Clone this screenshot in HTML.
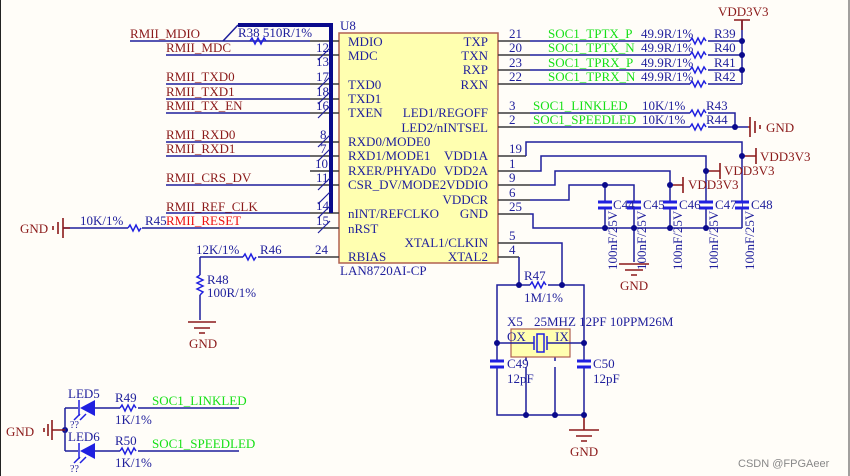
<!DOCTYPE html>
<html><head><meta charset="utf-8"><style>
html,body{margin:0;padding:0;background:#fffdf8;}
svg{display:block;}
text{font-family:"Liberation Serif",serif;font-size:13px;}
.b{fill:#1f1f9c}.r{fill:#8b1a1a}.g{fill:#16e016}.rr{fill:#ee1111}
.w{stroke:#1f1f9c;stroke-width:1.5;fill:none}
.k{stroke:#3a3a3a;stroke-width:1.5;fill:none}
.pr{stroke:#8b1a1a;stroke-width:1.6;fill:none}
.z{stroke:#2020e0;stroke-width:1.5;fill:none}
.c{stroke:#2020e0;stroke-width:3;fill:none}
</style></head><body>
<svg width="850" height="476" viewBox="0 0 850 476" xmlns="http://www.w3.org/2000/svg">
<rect x="0" y="0" width="850" height="476" fill="#fffdf8"/>
<line x1="0.5" y1="0" x2="0.5" y2="476" stroke="#222" stroke-width="1"/>
<line x1="849" y1="0" x2="849" y2="476" stroke="#444" stroke-width="1"/>

<!-- U8 box -->
<rect x="339" y="33" width="159" height="230" fill="#ffffb0" stroke="#b06050" stroke-width="1.5"/>
<text x="340" y="30" class="b">U8</text>
<text x="340" y="275" class="b">LAN8720AI-CP</text>
<g class="b" style="font-size:12.5px">
<text x="348" y="46">MDIO</text><text x="348" y="60">MDC</text>
<text x="348" y="89">TXD0</text><text x="348" y="103">TXD1</text><text x="348" y="117">TXEN</text>
<text x="348" y="146">RXD0/MODE0</text><text x="348" y="160">RXD1/MODE1</text>
<text x="348" y="175">RXER/PHYAD0</text><text x="348" y="189">CSR_DV/MODE2</text>
<text x="348" y="218">nINT/REFCLKO</text><text x="348" y="233">nRST</text><text x="348" y="261">RBIAS</text>
<g text-anchor="end">
<text x="488" y="46">TXP</text><text x="488" y="60">TXN</text><text x="488" y="74">RXP</text><text x="488" y="89">RXN</text>
<text x="488" y="117">LED1/REGOFF</text><text x="488" y="132">LED2/nINTSEL</text>
<text x="488" y="160">VDD1A</text><text x="488" y="175">VDD2A</text><text x="488" y="189">VDDIO</text>
<text x="488" y="204">VDDCR</text><text x="488" y="218">GND</text><text x="488" y="247">XTAL1/CLKIN</text><text x="488" y="261">XTAL2</text>
</g></g>

<!-- left pins -->
<g class="k">
<path d="M310 41H339M310 55H339M310 84H339M310 99H339M310 113H339M310 142H339M310 156H339M310 171H339M310 185H339M310 213H339M310 228H339M310 257H339"/>
</g>
<g class="w">
<path d="M130 41H310M166 55H310M166 84H310M166 99H310M166 113H310M166 142H310M166 156H310M166 185H310M166 213H310"/>
<path d="M223 41L238 25"/>
<path d="M63 228H128M142 228H310"/>
<path d="M200 257H243M258 257H310M200 257V275M200 295V320"/>
</g>
<path d="M238 25H331V213" stroke="#0a0a8c" stroke-width="4" fill="none"/>
<g stroke="#1f1f9c" stroke-width="1.2">
<path d="M318 60L330 48M318 89L330 77M318 104L330 92M318 118L330 106M318 147L330 135M318 161L330 149M318 190L330 178M318 204L330 192M318 218L330 206M318 233L330 221"/>
</g>
<path class="z" d="M250 41l2-3l3 6l3-6l3 6l3-6l2 3" />
<text x="238" y="37" class="b">R38  510R/1%</text>
<g class="b" style="font-size:12px">
<text x="316" y="52">12</text><text x="316" y="66">13</text><text x="316" y="81">17</text><text x="316" y="96">18</text><text x="316" y="110">16</text>
<text x="320" y="139">8</text><text x="320" y="153">7</text><text x="315" y="168">10</text><text x="316" y="182">11</text><text x="316" y="210">14</text><text x="316" y="225">15</text><text x="315" y="254">24</text>
</g>
<g class="r">
<text x="130" y="38">RMII_MDIO</text><text x="166" y="52">RMII_MDC</text>
<text x="166" y="81">RMII_TXD0</text><text x="166" y="96">RMII_TXD1</text><text x="166" y="110">RMII_TX_EN</text>
<text x="166" y="139">RMII_RXD0</text><text x="166" y="153">RMII_RXD1</text><text x="166" y="182">RMII_CRS_DV</text>
<text x="166" y="211">RMII_REF_CLK</text>
</g>
<text x="166" y="225" class="rr">RMII_RESET</text>
<!-- R45 GND -->
<path class="z" d="M128 228l2-3l3 6l3-6l3 6l2-3"/>
<text x="80" y="225" class="b">10K/1%</text><text x="145" y="225" class="b">R45</text>
<g class="pr"><path d="M63 218V238M58 222V234M53 226V230M63 228H70"/></g>
<text x="20" y="233" class="r">GND</text>
<!-- R46 R48 -->
<path class="z" d="M243 257l2-3l3 6l3-6l3 6l2-3"/>
<text x="196" y="254" class="b">12K/1%</text><text x="260" y="254" class="b">R46</text>
<path class="z" d="M200 275l-3 2l6 3l-6 3l6 3l-6 3l6 3l-3 3"/>
<text x="207" y="284" class="b">R48</text><text x="207" y="297" class="b">100R/1%</text>
<g class="pr"><path d="M188 322H216M194 328H210M199 333H205"/></g>
<text x="189" y="348" class="r">GND</text>

<!-- right pins -->
<g class="k"><path d="M498 41H530M498 55H530M498 70H530M498 84H530M498 113H530M498 127H530M498 156H526M498 171H530M498 185H530M498 200H530M498 214H530M498 243H530M498 257H519"/></g>
<g class="b" style="font-size:12px">
<text x="509" y="38">21</text><text x="509" y="52">20</text><text x="509" y="67">23</text><text x="509" y="81">22</text>
<text x="509" y="110">3</text><text x="509" y="124">2</text><text x="509" y="153">19</text><text x="509" y="168">1</text>
<text x="509" y="182">9</text><text x="509" y="197">6</text><text x="509" y="211">25</text><text x="509" y="240">5</text><text x="509" y="254">4</text>
</g>
<g class="w">
<path d="M530 41H690M708 41H742M530 55H690M708 55H742M530 70H690M708 70H742M530 84H690M708 84H742M742 20V84"/>
<path d="M530 113H690M708 113H735V127M530 127H690M708 127H748"/>
<path d="M526 156V142H742V228M530 171H541V156H706V228M530 185H555V171H670V228M530 200H569V185H634V228M605 185V228M530 214V214H533V228H742"/>
<path d="M634 228V262"/>
<path d="M530 243H562V285M519 257V285H530M548 285H584V343M519 285H497V415H584V415M584 343V415M526 357V415M555 357V415"/>
</g>
<g class="z">
<path d="M690 41l2-3l3 6l3-6l3 6l3-6l2 3M690 55l2-3l3 6l3-6l3 6l3-6l2 3M690 70l2-3l3 6l3-6l3 6l3-6l2 3M690 84l2-3l3 6l3-6l3 6l3-6l2 3M690 113l2-3l3 6l3-6l3 6l3-6l2 3M690 127l2-3l3 6l3-6l3 6l3-6l2 3M530 285l2-3l3 6l3-6l3 6l3-6l2 3"/>
</g>
<g class="g">
<text x="548" y="38">SOC1_TPTX_P</text><text x="548" y="52">SOC1_TPTX_N</text><text x="548" y="67">SOC1_TPRX_P</text><text x="548" y="81">SOC1_TPRX_N</text>
<text x="533" y="110">SOC1_LINKLED</text><text x="533" y="124">SOC1_SPEEDLED</text>
</g>
<g class="b">
<text x="641" y="38">49.9R/1%</text><text x="641" y="52">49.9R/1%</text><text x="641" y="67">49.9R/1%</text><text x="641" y="81">49.9R/1%</text>
<text x="714" y="38">R39</text><text x="714" y="52">R40</text><text x="714" y="67">R41</text><text x="714" y="81">R42</text>
<text x="642" y="110">10K/1%</text><text x="642" y="124">10K/1%</text><text x="706" y="110">R43</text><text x="706" y="124">R44</text>
</g>
<!-- power flags -->
<g class="pr">
<path d="M742 20H742M734 20H750M742 20V30"/>
<path d="M748 127H750M750 117V137M755 121V133M760 125V129"/>
<path d="M742 156H756M756 148V164M706 171H720M720 163V179M670 185H683M683 177V193"/>
<path d="M619 264H649M625 270H643M631 275H637"/>
<path d="M584 415V430M569 430H599M576 436H592M581 441H587"/>
</g>
<g class="r">
<text x="718" y="16">VDD3V3</text><text x="766" y="132">GND</text>
<text x="760" y="161">VDD3V3</text><text x="724" y="175">VDD3V3</text><text x="688" y="189">VDD3V3</text>
<text x="620" y="290">GND</text><text x="570" y="456">GND</text>
</g>
<!-- caps -->
<g fill="#fffdf8"><rect x="596" y="203" width="146" height="5"/></g>
<g class="c">
<path d="M598 202H612M598 208H612M627 202H641M627 208H641M663 202H677M663 208H677M699 202H713M699 208H713M735 202H749M735 208H749"/>
</g>
<g class="b">
<text x="613" y="209">C44</text><text x="643" y="209">C45</text><text x="679" y="209">C46</text><text x="715" y="209">C47</text><text x="751" y="209">C48</text>
<text transform="translate(617,270) rotate(-90)">100nF/25V</text>
<text transform="translate(646,270) rotate(-90)">100nF/25V</text>
<text transform="translate(682,270) rotate(-90)">100nF/25V</text>
<text transform="translate(718,270) rotate(-90)">100nF/25V</text>
<text transform="translate(754,270) rotate(-90)">100nF/25V</text>
</g>
<!-- crystal -->
<rect x="511" y="329" width="59" height="28" fill="#ffffb0" stroke="#b06050" stroke-width="1.2"/>
<path class="w" d="M497 343H534M547 343H584"/>
<path class="z" d="M534 336V350M547 336V350"/><rect x="537" y="334" width="7" height="18" fill="none" stroke="#2020e0" stroke-width="1.5"/>
<text x="507" y="341" class="b">OX</text><text x="555" y="341" class="b">IX</text>
<text x="507" y="326" class="b">X5</text><text x="534" y="326" class="b">25MHZ 12PF 10PPM26M</text>
<rect x="490" y="361" width="100" height="6" fill="#fffdf8"/>
<path class="c" d="M490 361H504M490 367H504M577 361H591M577 367H591"/>
<text x="507" y="368" class="b">C49</text><text x="507" y="383" class="b">12pF</text>
<text x="593" y="368" class="b">C50</text><text x="593" y="383" class="b">12pF</text>
<text x="524" y="280" class="b">R47</text><text x="524" y="302" class="b">1M/1%</text>
<!-- dots -->
<g fill="#0a0a8c">
<circle cx="742" cy="41" r="3"/><circle cx="742" cy="55" r="3"/><circle cx="742" cy="70" r="3"/><circle cx="735" cy="127" r="3"/>
<circle cx="742" cy="156" r="3"/><circle cx="706" cy="171" r="3"/><circle cx="670" cy="185" r="3"/><circle cx="605" cy="185" r="3"/>
<circle cx="605" cy="228" r="3"/><circle cx="634" cy="228" r="3"/><circle cx="670" cy="228" r="3"/><circle cx="706" cy="228" r="3"/>
<circle cx="519" cy="285" r="3"/><circle cx="562" cy="285" r="3"/><circle cx="497" cy="343" r="3"/><circle cx="584" cy="343" r="3"/>
<circle cx="526" cy="415" r="3"/><circle cx="555" cy="415" r="3"/><circle cx="584" cy="415" r="3"/><circle cx="65" cy="430" r="3"/>
</g>
<!-- LEDs -->
<g class="w"><path d="M65 408H78M95 408H120M138 408H239M65 451H78M95 451H120M138 451H239M65 408V451"/></g>
<path class="z" d="M120 408l2-3l3 6l3-6l3 6l3-6l2 3M120 451l2-3l3 6l3-6l3 6l3-6l2 3"/>
<g fill="#2020e0"><path d="M95 400V416L80 408Z"/><path d="M95 443V459L80 451Z"/></g>
<g class="z"><path d="M79 400V416M79 443V459M80 414l-6 6M86 414l-6 6M80 457l-6 6M86 457l-6 6"/></g>
<g class="pr"><path d="M52 420V440M48 424V436M44 428V432M52 430H65"/></g>
<text x="6" y="436" class="r">GND</text>
<g class="b">
<text x="68" y="398">LED5</text><text x="68" y="441">LED6</text>
<text x="115" y="402">R49</text><text x="115" y="424">1K/1%</text><text x="115" y="445">R50</text><text x="115" y="467">1K/1%</text>
<text x="70" y="428" style="font-size:10px">??</text><text x="70" y="472" style="font-size:10px">??</text>
</g>
<text x="152" y="405" class="g">SOC1_LINKLED</text><text x="152" y="448" class="g">SOC1_SPEEDLED</text>
<text x="738" y="467" style="font-family:'Liberation Sans',sans-serif;font-size:11px;fill:#888">CSDN @FPGAeer</text>
</svg>
</body></html>
